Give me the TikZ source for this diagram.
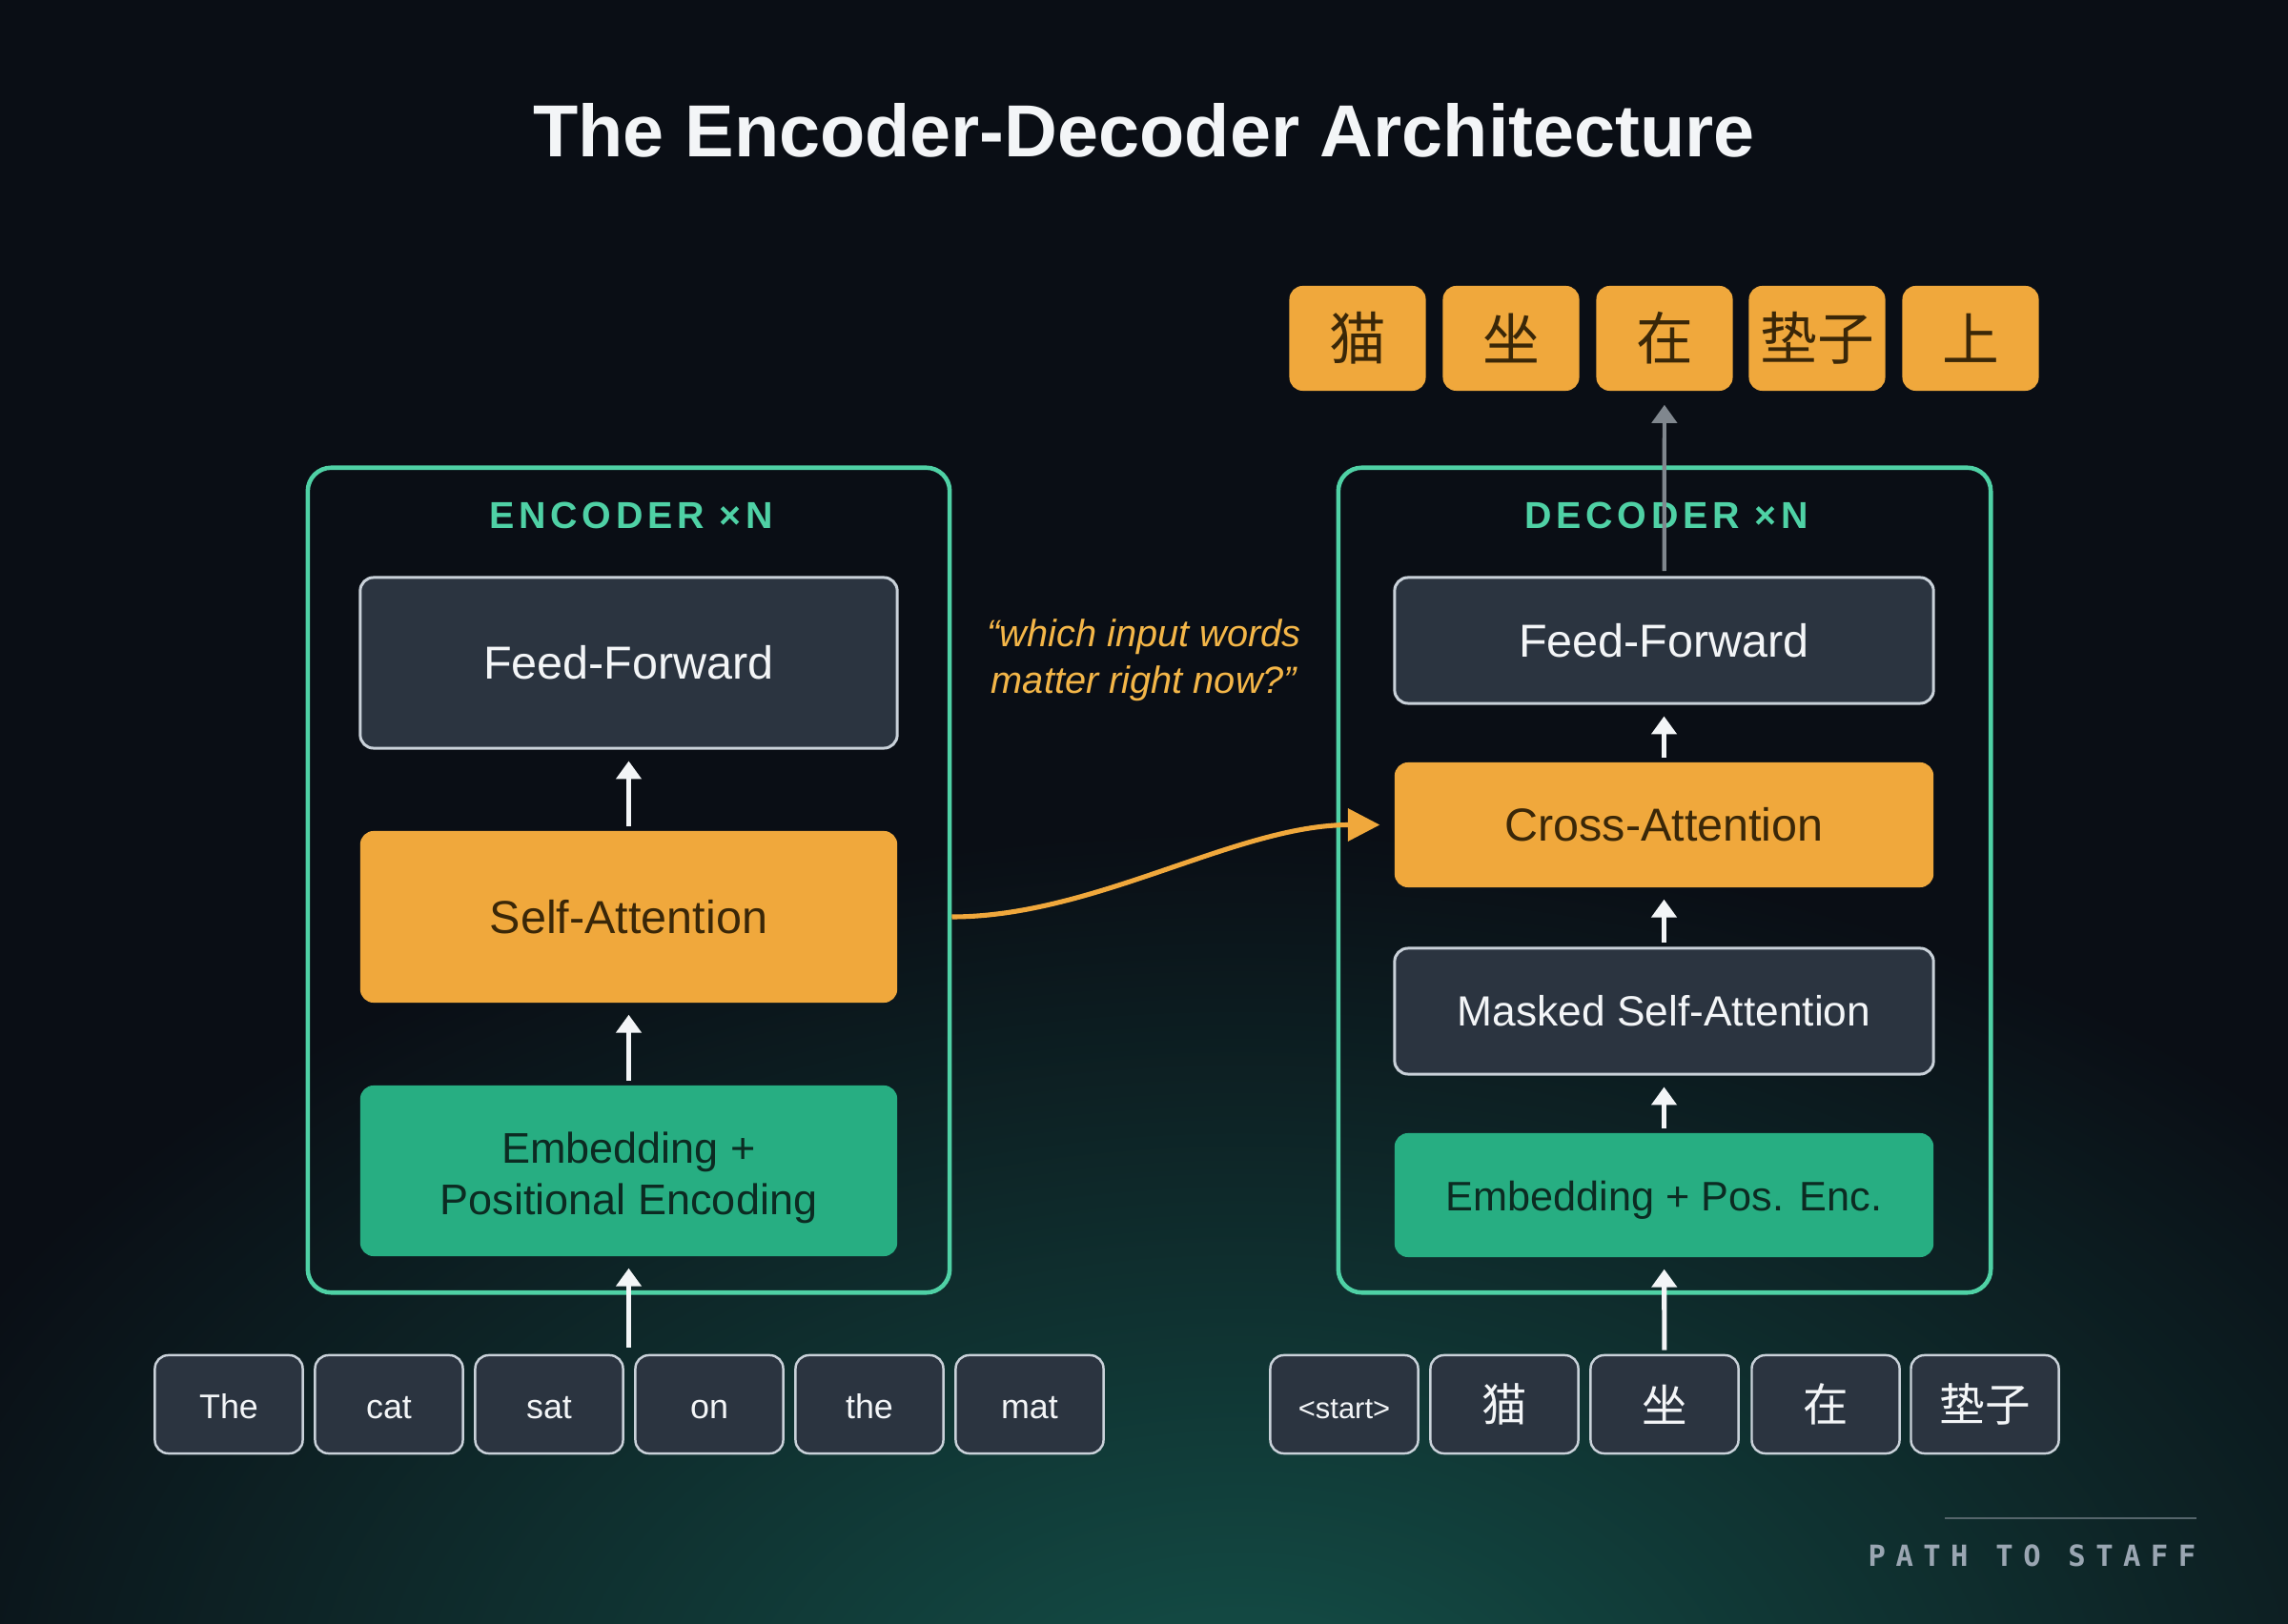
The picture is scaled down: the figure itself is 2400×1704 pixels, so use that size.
\documentclass[tikz,border=0pt]{standalone}
\usepackage{fontspec}
\setmainfont{Liberation Sans}
\newfontfamily\cjk{Noto Sans CJK SC}
\newfontfamily\stackfont{Liberation Sans}[LetterSpace=12]
\newfontfamily\footfont{DejaVu Sans Mono}[LetterSpace=34]
\usetikzlibrary{arrows.meta}

\definecolor{bg}{HTML}{0A0E15}
\definecolor{glow}{HTML}{145149}
\definecolor{titlecol}{HTML}{F3F5F7}
\definecolor{teal}{HTML}{4FD1A5}
\definecolor{boxfill}{HTML}{2B3440}
\definecolor{boxline}{HTML}{C9D1D9}
\definecolor{orange}{HTML}{F0A83C}
\definecolor{orangetext}{HTML}{3A2708}
\definecolor{green}{HTML}{27AE82}
\definecolor{greentext}{HTML}{0C2B22}
\definecolor{quotecol}{HTML}{F4B648}
\definecolor{arrowgray}{HTML}{80878E}
\definecolor{footline}{HTML}{55656B}
\definecolor{foottext}{HTML}{9AA6B2}

\begin{document}
\begin{tikzpicture}[x=0.01cm,y=-0.01cm,>={Triangle[length=5.4pt,width=7.4pt]},
    container/.style={draw=teal,line width=1.3pt,rounded corners=7pt,minimum height=8.65cm},
    stacklabel/.style={text=teal,font=\stackfont\bfseries\fontsize{11.2}{13}\selectfont},
    darkbox/.style={draw=boxline,fill=boxfill,line width=0.85pt,rounded corners=4pt,text=titlecol,minimum width=5.63cm},
    orangebox/.style={fill=orange,rounded corners=4pt,text=orangetext,minimum width=5.63cm},
    greenbox/.style={fill=green,rounded corners=4pt,text=greentext,minimum width=5.63cm},
    token/.style={draw=boxline,fill=boxfill,line width=0.7pt,rounded corners=4pt,text=titlecol,minimum width=1.55cm,minimum height=1.03cm,inner sep=0pt,text height=9.3pt,text depth=0.5pt,font=\fontsize{10.2}{12}\selectfont},
    cjktoken/.style={token,text height=,text depth=,font=\cjk\fontsize{13.5}{16}\selectfont},
    outtoken/.style={fill=orange,rounded corners=4pt,text=orangetext,minimum width=1.43cm,minimum height=1.1cm,inner sep=0pt,font=\cjk\fontsize{17}{20}\selectfont},
    flow/.style={->,titlecol,line width=1.45pt,shorten >=3.4pt,shorten <=1.2pt}]
    \useasboundingbox (0,0) rectangle (2400,1704);
    \fill[bg] (0,0) rectangle (2400,1704);
    \begin{scope}
        \clip (0,0) rectangle (2400,1704);
        \shade[inner color=glow,outer color=bg] (1300,1820) ellipse (1500 and 950);
    \end{scope}

    \node[text=titlecol,anchor=base,font=\bfseries\fontsize{22}{26}\selectfont] (title) at (1200,165) {The Encoder-Decoder Architecture};

    \node[container,minimum width=6.73cm] (encbox) at (659.5,923.5) {};
    \node[stacklabel,anchor=base] (enclabel) at (662,555) {ENCODER ×N};
    \node[darkbox,minimum height=1.79cm,font=\fontsize{13.8}{16}\selectfont] (encff) at (659.5,695.5) {Feed-Forward};
    \node[orangebox,minimum height=1.8cm,font=\fontsize{13.8}{16}\selectfont] (encsa) at (659.5,962) {Self-Attention};
    \node[greenbox,minimum height=1.79cm,align=center,text depth=0pt,font=\fontsize{12.8}{15.6}\selectfont] (encemb) at (659.5,1228.5) {\rule{0pt}{10.8pt}Embedding +\\Positional Encoding};

    \node[container,minimum width=6.84cm] (decbox) at (1746,923.5) {};
    \node[stacklabel,anchor=base] (declabel) at (1748,555) {DECODER ×N};
    \node[darkbox,minimum width=5.65cm,minimum height=1.32cm,font=\fontsize{13.8}{16}\selectfont] (decff) at (1745.5,672) {Feed-Forward};
    \node[orangebox,minimum width=5.65cm,minimum height=1.31cm,font=\fontsize{13.8}{16}\selectfont] (deccross) at (1745.5,865.5) {Cross-Attention};
    \node[darkbox,minimum width=5.65cm,minimum height=1.32cm,font=\fontsize{12.6}{15}\selectfont] (decmasked) at (1745.5,1061) {Masked Self-Attention};
    \node[greenbox,minimum width=5.65cm,minimum height=1.3cm,text height=9.2pt,text depth=0pt,font=\fontsize{12.3}{15}\selectfont] (decemb) at (1745.5,1254) {Embedding + Pos. Enc.};

    \node[token] (the) at (240,1473.5) {The};
    \node[token] (cat) at (408,1473.5) {cat};
    \node[token] (sat) at (576,1473.5) {sat};
    \node[token] (on) at (744,1473.5) {on};
    \node[token] (the2) at (912,1473.5) {the};
    \node[token] (mat) at (1080,1473.5) {mat};

    \node[token,font=\fontsize{8.8}{10}\selectfont] (start) at (1410,1473.5) {<start>};
    \node[cjktoken] (inmao) at (1578,1473.5) {猫};
    \node[cjktoken] (inzuo) at (1746,1473.5) {坐};
    \node[cjktoken] (inzai) at (1915,1473.5) {在};
    \node[cjktoken] (indianzi) at (2082,1473.5) {垫子};

    \node[outtoken] (outmao) at (1424,355) {猫};
    \node[outtoken] (outzuo) at (1585,355) {坐};
    \node[outtoken] (outzai) at (1746,355) {在};
    \node[outtoken] (outdianzi) at (1906,355) {垫子};
    \node[outtoken] (outshang) at (2067,355) {上};

    \node[text=quotecol,align=center,font=\itshape\fontsize{11.3}{13.9}\selectfont] (question) at (1200,693) {“which input words\\matter right now?”};

    \coordinate (encin) at (659.5,1418);
    \draw[flow] (encsa) -- (encff);
    \draw[flow] (encemb) -- (encsa);
    \draw[flow] (encin) -- (encemb);
    \draw[flow] (decmasked) -- (deccross);
    \draw[flow] (deccross) -- (decff);
    \draw[flow] (decemb) -- (decmasked);
    \draw[flow] (inzuo) -- (decemb);
    \draw[->,arrowgray,line width=1.2pt,shorten >=4pt,shorten <=1.5pt] (decff) -- (outzai);

    \coordinate (crossfrom) at (encbox.east |- encsa);
    \draw[-{Triangle[length=9.5pt,width=9.5pt]},orange,line width=1.45pt,shorten >=4.2pt] (crossfrom) .. controls +(150,0) and +(-165,0) .. (deccross.west);

    \coordinate (footleft) at (2040,1593);
    \coordinate (footright) at (2304,1593);
    \draw[footline,line width=0.6pt] (footleft) -- (footright);
    \node[text=foottext,anchor=west,inner sep=0pt,font=\footfont\bfseries\fontsize{8.7}{10}\selectfont] (brand) at (1959,1632) {PATH TO STAFF};
\end{tikzpicture}
\end{document}
